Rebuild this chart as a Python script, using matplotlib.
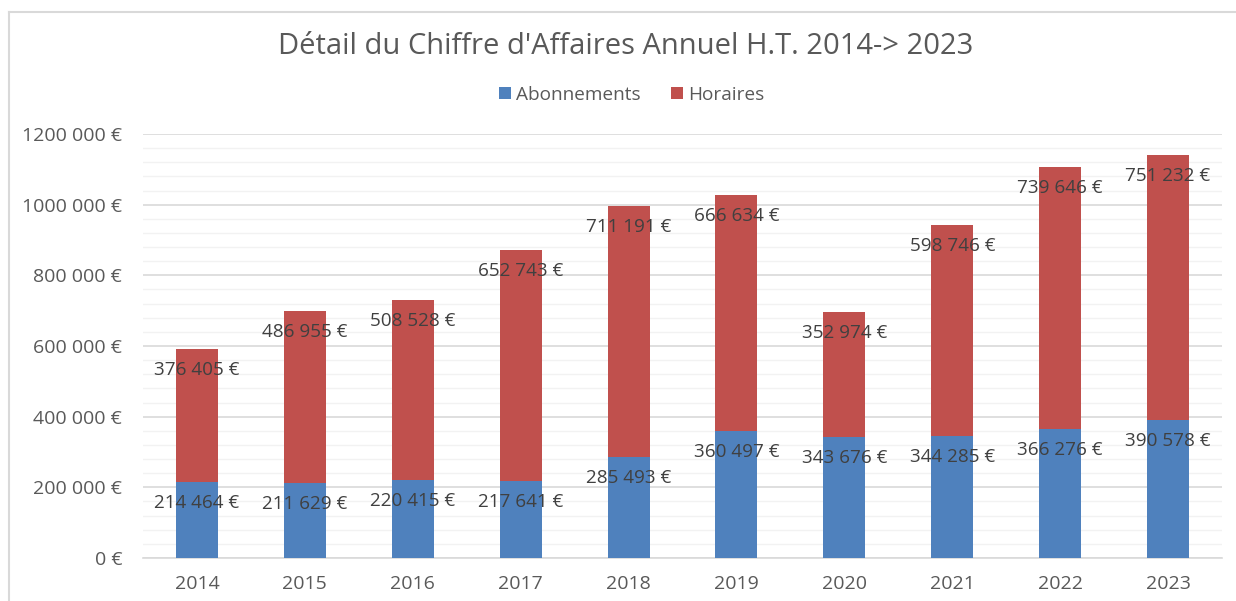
import matplotlib
matplotlib.use("Agg")
import matplotlib.pyplot as plt
from matplotlib.lines import Line2D
from matplotlib.ticker import MultipleLocator, FuncFormatter
import numpy as np

plt.rcParams['font.family'] = ['Open Sans', 'DejaVu Sans']

years = ['2014', '2015', '2016', '2017', '2018', '2019', '2020', '2021', '2022', '2023']
abonnements = [214464, 211629, 220415, 217641, 285493, 360497, 343676, 344285, 366276, 390578]
horaires = [376405, 486955, 508528, 652743, 711191, 666634, 352974, 598746, 739646, 751232]

BLUE = '#4f81bd'
RED = '#c0504d'
TXT = '#595959'


def euro(v):
    s = f"{int(round(v)):,}".replace(",", " ")
    return s + " €"


def euro_axis(v, pos):
    # excel drops the thousands space for the millions here
    s = f"{int(round(v)):,}".replace(",", " ")
    if v >= 1000000:
        s = s.replace(" ", "", 1)
    return s + " €"


fig = plt.figure(figsize=(12.36, 6.01), dpi=100)
ax = fig.add_axes([143/1236, 1 - 558/601, (1222-143)/1236, (558-134)/601])

x = np.arange(len(years))
w = 0.39
ab = np.array(abonnements)
ho = np.array(horaires)
ax.bar(x, ab, w, color=BLUE, label='Abonnements', zorder=3)
ax.bar(x, ho, w, bottom=ab, color=RED, label='Horaires', zorder=3)

for i in range(len(years)):
    ax.annotate(euro(ab[i]), (x[i], ab[i]), xytext=(0, -21), textcoords='offset pixels',
                ha='center', va='center', fontsize=13.6, color='#404040', zorder=4)
    ax.annotate(euro(ho[i]), (x[i], ab[i] + ho[i]), xytext=(0, -21), textcoords='offset pixels',
                ha='center', va='center', fontsize=13.6, color='#404040', zorder=4)

ax.set_xlim(-0.5, len(years) - 0.5)
ax.set_ylim(0, 1200000)
ax.yaxis.set_major_locator(MultipleLocator(200000))
ax.yaxis.set_minor_locator(MultipleLocator(40000))
ax.yaxis.set_major_formatter(FuncFormatter(euro_axis))
ax.grid(axis='y', which='major', color='#d9d9d9', lw=1.2, zorder=1)
ax.grid(axis='y', which='minor', color='#f2f2f2', lw=1.0, zorder=0)
ax.set_xticks(x)
ax.set_xticklabels(years)
ax.tick_params(axis='both', which='both', length=0, colors=TXT, labelsize=14)
ax.tick_params(axis='y', pad=15)
ax.tick_params(axis='x', pad=12)
for sp in ['top', 'right', 'left']:
    ax.spines[sp].set_visible(False)
ax.spines['bottom'].set_color('#d9d9d9')
ax.spines['bottom'].set_linewidth(1.2)

fig.text(626/1236, 1 - 47/601, "Détail du Chiffre d'Affaires Annuel H.T. 2014-> 2023",
         ha='center', va='center', fontsize=21, color=TXT)

fig.legend(loc='center', bbox_to_anchor=(632/1236, 1 - 95/601), ncol=2, frameon=False,
           handlelength=0.6, handleheight=0.6, handletextpad=0.3, columnspacing=1.6,
           fontsize=13.7, labelcolor=TXT)

# chart frame (top and left edges visible in the screenshot)
fig.add_artist(Line2D([9/1236, 1], [1 - 12/601, 1 - 12/601], color='#d9d9d9', lw=1.5))
fig.add_artist(Line2D([9/1236, 9/1236], [0, 1 - 12/601], color='#d9d9d9', lw=1.5))

fig.savefig('out.png', dpi=100)
